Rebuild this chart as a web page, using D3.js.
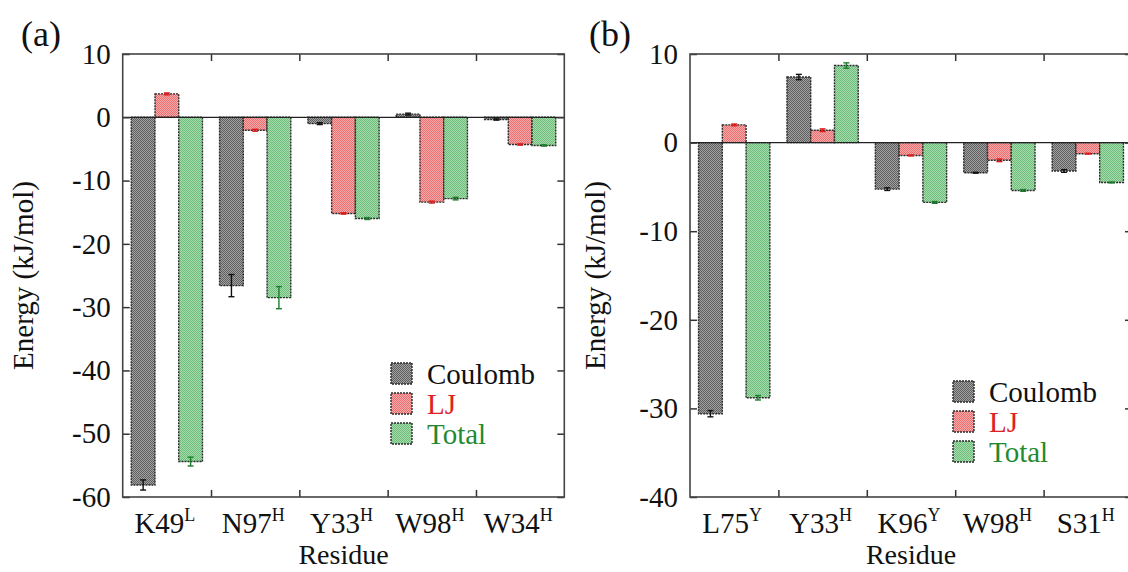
<!DOCTYPE html>
<html>
<head>
<meta charset="utf-8">
<script src="https://cdn.jsdelivr.net/npm/d3@7"></script>
<style>
  html, body { margin: 0; padding: 0; background: #fff; }
  svg { display: block; overflow: hidden; }
  svg text { font-family: "Liberation Serif", "Times New Roman", Times, Tinos, "DejaVu Serif", "Noto Serif", serif !important; }
</style>
</head>
<body>
<svg id="chart" width="1128" height="572"></svg>
<script>
// ---- data ----
const series = ["Coulomb", "LJ", "Total"];

// panel (a)
const residuesA = [["K49", "L"], ["N97", "H"], ["Y33", "H"], ["W98", "H"], ["W34", "H"]];
const coulombA = [-58.1, -26.6, -1.0, 0.5, -0.35];
const coulombErrA = [0.8, 1.75, 0.15, 0.15, 0.1];
const ljA = [3.7, -2.05, -15.2, -13.4, -4.3];
const ljErrA = [0.15, 0.15, 0.1, 0.15, 0.1];
const totalA = [-54.4, -28.5, -16.0, -12.85, -4.45];
const totalErrA = [0.7, 1.75, 0.15, 0.2, 0.1];
const ticksA = [10, 0, -10, -20, -30, -40, -50, -60];

// panel (b)
const residuesB = [["L75", "Y"], ["Y33", "H"], ["K96", "Y"], ["W98", "H"], ["S31", "H"]];
const coulombB = [-30.6, 7.4, -5.25, -3.4, -3.2];
const coulombErrB = [0.35, 0.3, 0.15, 0.05, 0.15];
const ljB = [2.0, 1.4, -1.45, -2.0, -1.25];
const ljErrB = [0.1, 0.15, 0.05, 0.15, 0.05];
const totalB = [-28.8, 8.7, -6.75, -5.4, -4.5];
const totalErrB = [0.25, 0.3, 0.1, 0.1, 0.05];
const ticksB = [10, 0, -10, -20, -30, -40];

// ---- styles ----
const FONT = '"Liberation Serif", "Times New Roman", Times, Tinos, "DejaVu Serif", serif';
const fillPair = {
  Coulomb: ["#a0a0a0", "#606060"],
  LJ: ["#f8aaaa", "#e87070"],
  Total: ["#a6dbae", "#6ebd7a"]
};
const errColor = { Coulomb: "#111", LJ: "#e01a1a", Total: "#1c7d2c" };
const textColor = { Coulomb: "#111", LJ: "#dd2222", Total: "#1f8a30" };

const svg = d3.select("#chart").attr("font-family", FONT);

// fine checker textures for the bar fills
const defs = svg.append("defs");
series.forEach(s => {
  const p = defs.append("pattern")
    .attr("id", "pat-" + s)
    .attr("width", 2).attr("height", 2)
    .attr("patternUnits", "userSpaceOnUse");
  p.append("rect").attr("width", 2).attr("height", 2).attr("fill", fillPair[s][0]);
  p.append("rect").attr("width", 1).attr("height", 1).attr("fill", fillPair[s][1]);
  p.append("rect").attr("x", 1).attr("y", 1).attr("width", 1).attr("height", 1).attr("fill", fillPair[s][1]);
});

function drawPanel(cfg) {
  const { left, right, top, bottom, domain, ticks, residues, vals, errs, tag, tagX, legendX, legendY, titleX } = cfg;
  const g = svg.append("g");

  const y = d3.scaleLinear().domain(domain).range([bottom, top]);
  const x = d3.scaleBand().domain(d3.range(residues.length)).range([left, right]).paddingInner(0).paddingOuter(0);
  const xs = d3.scaleBand().domain(series).range([0, x.bandwidth()]).paddingInner(0).paddingOuter(0.36);
  const xb = d3.scaleLinear().domain([0, residues.length]).range([left, right]);

  // bars
  series.forEach((s, si) => {
    const v = vals[si], e = errs[si];
    const grp = g.append("g");
    grp.selectAll("rect").data(v).join("rect")
      .attr("x", (d, i) => x(i) + xs(s))
      .attr("width", xs.bandwidth())
      .attr("y", d => y(Math.max(0, d)))
      .attr("height", d => Math.abs(y(d) - y(0)))
      .attr("fill", "url(#pat-" + s + ")")
      .attr("stroke", "#2a2a2a")
      .attr("stroke-width", 1.4)
      .attr("stroke-dasharray", "2 1");
    // error bars
    const eg = grp.selectAll("g.err").data(v).join("g").attr("class", "err")
      .attr("stroke", errColor[s]).attr("stroke-width", 1.4);
    eg.append("line")
      .attr("x1", (d, i) => x(i) + xs(s) + xs.bandwidth() / 2)
      .attr("x2", (d, i) => x(i) + xs(s) + xs.bandwidth() / 2)
      .attr("y1", (d, i) => y(d + e[i]))
      .attr("y2", (d, i) => y(d - e[i]));
    [1, -1].forEach(sg => {
      eg.append("line")
        .attr("x1", (d, i) => x(i) + xs(s) + xs.bandwidth() / 2 - 3)
        .attr("x2", (d, i) => x(i) + xs(s) + xs.bandwidth() / 2 + 3)
        .attr("y1", (d, i) => y(d + sg * e[i]))
        .attr("y2", (d, i) => y(d + sg * e[i]));
    });
  });

  // zero line
  g.append("line")
    .attr("x1", left).attr("x2", right)
    .attr("y1", y(0)).attr("y2", y(0))
    .attr("stroke", "#222").attr("stroke-width", 1.3);

  // axes with inward ticks
  const axL = g.append("g").attr("transform", `translate(${left},0)`)
    .call(d3.axisLeft(y).tickValues(ticks).tickSize(-7).tickPadding(12).tickFormat(d => String(d)));
  const axR = g.append("g").attr("transform", `translate(${right},0)`)
    .call(d3.axisRight(y).tickValues(ticks).tickSize(-7).tickFormat(""));
  const inner = d3.range(1, residues.length);
  const axT = g.append("g").attr("transform", `translate(0,${top})`)
    .call(d3.axisTop(xb).tickValues(inner).tickSize(-7).tickFormat(""));
  const axB = g.append("g").attr("transform", `translate(0,${bottom})`)
    .call(d3.axisBottom(xb).tickValues(inner).tickSize(-7).tickFormat(""));
  [axL, axR, axT, axB].forEach(a => {
    a.attr("font-family", FONT);
    a.select(".domain").remove();
    a.selectAll(".tick line").attr("stroke", "#333").attr("stroke-width", 1.5);
  });
  axL.selectAll(".tick text")
    .attr("font-size", 29).attr("fill", "#111");

  // frame
  g.append("rect")
    .attr("x", left).attr("y", top)
    .attr("width", right - left).attr("height", bottom - top)
    .attr("fill", "none").attr("stroke", "#444").attr("stroke-width", 1.6);

  // category labels with superscripts
  const lab = g.selectAll("text.cat").data(residues).join("text")
    .attr("class", "cat")
    .attr("x", (d, i) => x(i) + x.bandwidth() / 2 - 2)
    .attr("y", bottom + 36)
    .attr("text-anchor", "middle")
    .attr("font-size", 29)
    .attr("fill", "#111");
  lab.append("tspan").text(d => d[0]);
  lab.append("tspan").attr("dy", -12).attr("font-size", 18).text(d => d[1]);

  // axis titles
  g.append("text")
    .attr("x", (left + right) / 2).attr("y", 564)
    .attr("text-anchor", "middle").attr("font-size", 28).attr("fill", "#111")
    .text("Residue");
  g.append("text")
    .attr("transform", `translate(${titleX},${(top + bottom) / 2}) rotate(-90)`)
    .attr("text-anchor", "middle").attr("font-size", 29).attr("fill", "#111")
    .text("Energy (kJ/mol)");

  // panel tag
  g.append("text")
    .attr("x", tagX).attr("y", 46)
    .attr("font-size", 36).attr("fill", "#111")
    .text(tag);

  // legend
  const lg = g.append("g").attr("transform", `translate(${legendX},${legendY})`);
  series.forEach((s, i) => {
    lg.append("rect")
      .attr("x", 0).attr("y", i * 30)
      .attr("width", 21).attr("height", 21)
      .attr("fill", "url(#pat-" + s + ")")
      .attr("stroke", "#2a2a2a").attr("stroke-width", 1.4)
      .attr("stroke-dasharray", "2 1");
    lg.append("text")
      .attr("x", 36).attr("y", i * 30 + 20.5)
      .attr("font-size", 29).attr("fill", textColor[s])
      .text(s);
  });
}

drawPanel({
  left: 122.7, right: 564.3, top: 54, bottom: 497,
  domain: [-60, 10], ticks: ticksA, residues: residuesA,
  vals: [coulombA, ljA, totalA], errs: [coulombErrA, ljErrA, totalErrA],
  tag: "(a)", tagX: 21, legendX: 391, legendY: 363, titleX: 33
});

drawPanel({
  left: 690, right: 1132, top: 54, bottom: 497,
  domain: [-40, 10], ticks: ticksB, residues: residuesB,
  vals: [coulombB, ljB, totalB], errs: [coulombErrB, ljErrB, totalErrB],
  tag: "(b)", tagX: 589, legendX: 953, legendY: 381, titleX: 605
});
</script>
</body>
</html>
